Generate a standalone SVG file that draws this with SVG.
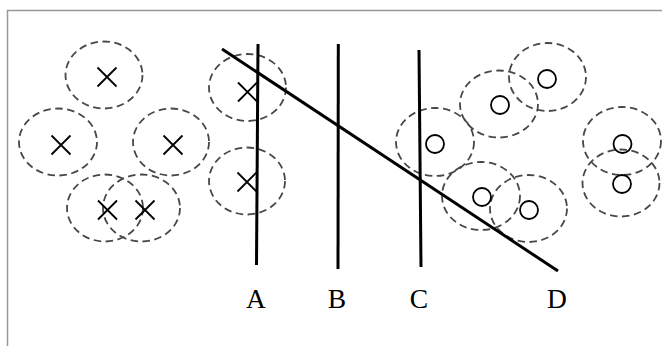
<svg xmlns="http://www.w3.org/2000/svg" width="662" height="346" viewBox="0 0 662 346">
<style>
.zone{fill:none;stroke:#474747;stroke-width:1.8;stroke-dasharray:7.5 4.5}
.x{stroke:#000;stroke-width:1.8;fill:none}
.o{fill:none;stroke:#000;stroke-width:1.8}
.sep{stroke:#000;stroke-width:3;fill:none}
.lbl{font-family:"Liberation Serif","Times New Roman",serif;font-size:27.5px;fill:#000;text-anchor:middle}
</style>
<defs>
<path id="cross" d="M-9.5,-9.5L9.5,9.5M9.5,-9.5L-9.5,9.5"/>
</defs>
<rect width="662" height="346" fill="#fff"/>
<path d="M7.5,346V10.5H662" fill="none" stroke="#999" stroke-width="1.5"/>
<g id="zones">
<ellipse class="zone" cx="104" cy="75" rx="38.5" ry="33.5"/>
<ellipse class="zone" cx="58" cy="142" rx="39" ry="33.5"/>
<ellipse class="zone" cx="171" cy="142" rx="38" ry="33.5"/>
<ellipse class="zone" cx="247.5" cy="87.5" rx="38.5" ry="33.5"/>
<ellipse class="zone" cx="247" cy="181" rx="38" ry="33.5"/>
<ellipse class="zone" cx="105" cy="208" rx="38" ry="33.5"/>
<ellipse class="zone" cx="141.5" cy="208" rx="38.5" ry="33.5"/>
<ellipse class="zone" cx="547.5" cy="77" rx="38.5" ry="34"/>
<ellipse class="zone" cx="499" cy="104" rx="39" ry="33.5"/>
<ellipse class="zone" cx="435" cy="142" rx="39" ry="34"/>
<ellipse class="zone" cx="622" cy="141" rx="39" ry="34"/>
<ellipse class="zone" cx="621" cy="183" rx="38.5" ry="33.5"/>
<ellipse class="zone" cx="481" cy="196" rx="39" ry="34"/>
<ellipse class="zone" cx="528.5" cy="208.5" rx="38.5" ry="33.5"/>
</g>
<g id="crosses">
<use href="#cross" class="x" x="107" y="77"/>
<use href="#cross" class="x" x="61" y="145"/>
<use href="#cross" class="x" x="173" y="145"/>
<use href="#cross" class="x" x="247.5" y="92"/>
<use href="#cross" class="x" x="247" y="182"/>
<use href="#cross" class="x" x="107.5" y="210"/>
<use href="#cross" class="x" x="145" y="210"/>
</g>
<g id="circles">
<circle class="o" cx="547" cy="79" r="9"/>
<circle class="o" cx="500" cy="105" r="9"/>
<circle class="o" cx="435" cy="144" r="9"/>
<circle class="o" cx="622.5" cy="144" r="9"/>
<circle class="o" cx="622" cy="184" r="9"/>
<circle class="o" cx="482" cy="197" r="9"/>
<circle class="o" cx="529" cy="210" r="9"/>
</g>
<g id="connectors">
<line class="sep" x1="258" y1="44" x2="256.5" y2="265"/>
<line class="sep" x1="338.3" y1="44" x2="338" y2="269"/>
<line class="sep" x1="419" y1="50" x2="421" y2="267"/>
<line class="sep" x1="222" y1="49" x2="558" y2="271"/>
</g>
<g id="labels">
<text class="lbl" x="256" y="307.5">A</text>
<text class="lbl" x="337" y="307.5">B</text>
<text class="lbl" x="419" y="307.5">C</text>
<text class="lbl" x="557" y="307.5">D</text>
</g>
</svg>
